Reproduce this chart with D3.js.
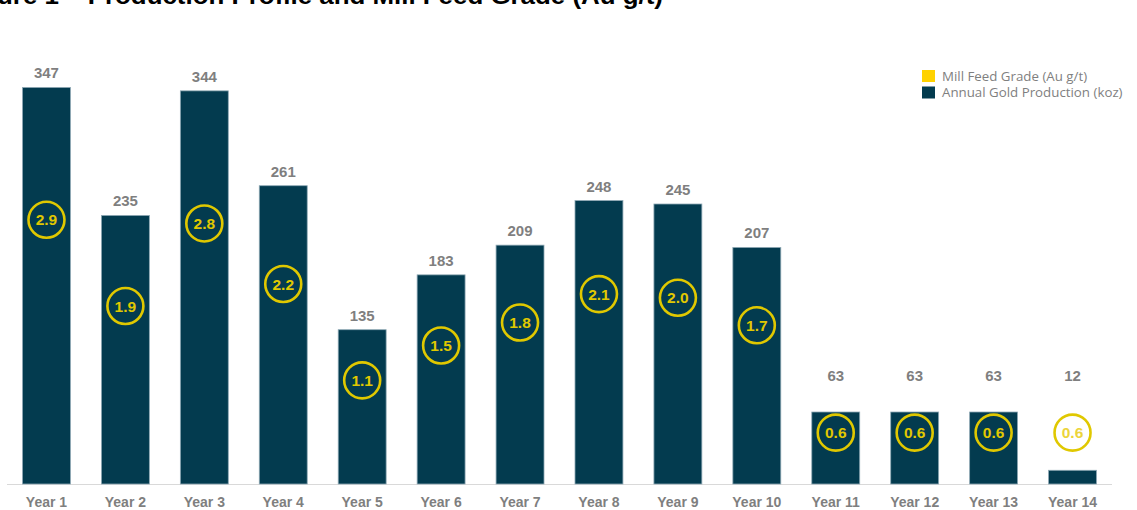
<!DOCTYPE html>
<html>
<head>
<meta charset="utf-8">
<script src="https://cdn.jsdelivr.net/npm/d3@7"></script>
<style>
  body { margin: 0; background: #fff; }
  svg { display: block; }
</style>
</head>
<body>
<svg id="chart" width="1137" height="510"></svg>
<script>
// chart data
var years = ["Year 1","Year 2","Year 3","Year 4","Year 5","Year 6","Year 7","Year 8","Year 9","Year 10","Year 11","Year 12","Year 13","Year 14"];
var production = [347, 235, 344, 261, 135, 183, 209, 248, 245, 207, 63, 63, 63, 12];   // koz
var grade = [2.88, 1.94, 2.84, 2.18, 1.13, 1.51, 1.76, 2.07, 2.03, 1.73, 0.56, 0.56, 0.56, 0.56]; // Au g/t
var legendLabels = ["Mill Feed Grade (Au g/t)", "Annual Gold Production (koz)"];

var barColor = "#033b4f", yellow = "#e0c800", grey = "#7f7f7f";

var svg = d3.select("#chart");
var plotTop = 40, plotBottom = 484;

var x = d3.scaleBand()
    .domain(years)
    .range([7, 1112])
    .paddingInner(0.38)
    .paddingOuter(0.19);

var y = d3.scaleLinear().domain([0, 388.5]).range([plotBottom, plotTop]);
var y2 = d3.scaleLinear().domain([0, 4.84]).range([plotBottom, plotTop]);
var r = 18;

// title (cut off at the top like the source)
svg.append("text")
    .attr("x", -3).attr("y", 4)
    .attr("textLength", 666)
    .attr("lengthAdjust", "spacingAndGlyphs")
    .style("font-family", "Liberation Sans, Arial, sans-serif")
    .style("font-weight", "bold")
    .style("font-size", "23px")
    .attr("fill", "#000")
    .text("ure 1 \u2013 Production Profile and Mill Feed Grade (Au g/t)");

// baseline
svg.append("line")
    .attr("x1", 7).attr("x2", 1112)
    .attr("y1", plotBottom + 0.5).attr("y2", plotBottom + 0.5)
    .attr("stroke", "#d9d9d9");

// bars
svg.selectAll("rect.bar")
    .data(production)
    .enter()
    .append("rect")
    .attr("class", "bar")
    .attr("x", function(d, i){ return x(years[i]) + 0.5 })
    .attr("y", function(d){ return y(d) })
    .attr("width", x.bandwidth() - 1)
    .attr("height", function(d){ return plotBottom - y(d) })
    .attr("fill", barColor)
    .attr("stroke", "#8fa9b5")
    .attr("stroke-width", 0.8);

// production labels, lifted above the grade bubble when it sits near the bar top
svg.selectAll("text.val")
    .data(production)
    .enter()
    .append("text")
    .attr("class", "val")
    .attr("x", function(d, i){ return x(years[i]) + x.bandwidth() / 2 })
    .attr("y", function(d, i){
        var ly = Math.min(y(d), y2(grade[i]) - r - 25);
        return ly - 9;
    })
    .attr("text-anchor", "middle")
    .style("font-family", "Liberation Sans, Arial, sans-serif")
    .style("font-weight", "bold")
    .style("font-size", "15px")
    .attr("fill", grey)
    .text(function(d){ return d });

// grade bubbles
var g = svg.selectAll("g.grade")
    .data(grade)
    .enter()
    .append("g")
    .attr("class", "grade")
    .attr("transform", function(d, i){
        return "translate(" + (x(years[i]) + x.bandwidth() / 2) + "," + y2(d) + ")";
    });

g.append("circle")
    .attr("r", r)
    .attr("fill", "none")
    .attr("stroke", yellow)
    .attr("stroke-width", 2.6);

g.append("text")
    .attr("text-anchor", "middle")
    .attr("dy", "0.36em")
    .style("font-family", "Liberation Sans, Arial, sans-serif")
    .style("font-weight", "bold")
    .style("font-size", "15.5px")
    .attr("fill", function(d, i){ return i == grade.length - 1 ? "#ecd43a" : yellow })
    .text(function(d){ return d3.format(".1f")(d) });

// x axis labels
svg.selectAll("text.year")
    .data(years)
    .enter()
    .append("text")
    .attr("class", "year")
    .attr("x", function(d){ return x(d) + x.bandwidth() / 2 })
    .attr("y", 507)
    .attr("text-anchor", "middle")
    .style("font-family", "Liberation Sans, Arial, sans-serif")
    .style("font-weight", "bold")
    .style("font-size", "14px")
    .attr("fill", grey)
    .text(function(d){ return d });

// legend
var legendColors = ["#ffd200", barColor];
var lg = svg.selectAll("g.legend")
    .data(legendLabels)
    .enter()
    .append("g")
    .attr("class", "legend")
    .attr("transform", function(d, i){ return "translate(922," + (70 + i * 16.5) + ")" });

lg.append("rect")
    .attr("width", 13).attr("height", 12)
    .attr("fill", function(d, i){ return legendColors[i] });

lg.append("text")
    .attr("x", 20).attr("y", 10.5)
    .style("font-family", "Open Sans, sans-serif")
    .style("font-size", "13.3px")
    .attr("fill", grey)
    .text(function(d){ return d });
</script>
</body>
</html>
